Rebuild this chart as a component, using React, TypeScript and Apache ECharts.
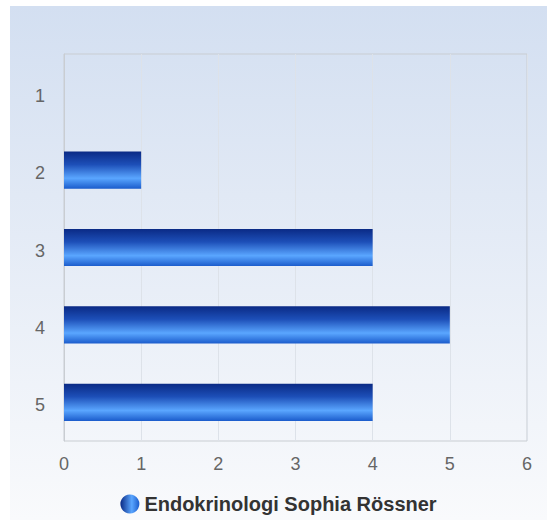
import React, { useEffect, useRef } from "react";
import * as echarts from "echarts";

const categories = ["1", "2", "3", "4", "5"];
const values = [0, 1, 4, 5, 4];
const xTicks = [0, 1, 2, 3, 4, 5, 6];
const seriesName = "Endokrinologi Sophia Rössner";

export default function App() {
  const ref = useRef<HTMLDivElement>(null);
  useEffect(() => {
    if (!ref.current) return;
    const chart = echarts.init(ref.current, undefined, { renderer: "svg" });
    const barGrad = new echarts.graphic.LinearGradient(0, 0, 0, 1, [
      { offset: 0, color: "#0a2a85" },
      { offset: 0.35, color: "#1d4fb8" },
      { offset: 0.72, color: "#5aa6ff" },
      { offset: 1, color: "#1b5ccc" },
    ]);
    const legendGrad = new echarts.graphic.LinearGradient(0, 0, 1, 0, [
      { offset: 0, color: "#0a2a85" },
      { offset: 0.6, color: "#5aa6ff" },
      { offset: 1, color: "#1b5ccc" },
    ]);
    chart.setOption({
      animation: false,
      backgroundColor: new echarts.graphic.LinearGradient(0, 0, 0, 1, [
        { offset: 0, color: "#d3dff1" },
        { offset: 1, color: "#f9fafc" },
      ]),
      textStyle: { fontFamily: "Liberation Sans, Arial, sans-serif" },
      grid: {
        left: 54,
        right: 20,
        top: 48,
        bottom: 79,
        show: true,
        borderColor: "#c9cdd2",
        borderWidth: 1,
        backgroundColor: "transparent",
      },
      legend: {
        bottom: 1,
        left: "center",
        data: [{ name: seriesName, icon: "circle", itemStyle: { color: legendGrad } }],
        itemWidth: 19,
        itemHeight: 19,
        itemGap: 7,
        textStyle: { fontSize: 20, fontWeight: "bold", color: "#333", fontFamily: "Liberation Sans, Arial, sans-serif" },
      },
      xAxis: {
        type: "value",
        min: xTicks[0],
        max: xTicks[xTicks.length - 1],
        interval: 1,
        axisLine: { show: false },
        axisTick: { show: false },
        axisLabel: { fontSize: 18, color: "#666", margin: 14 },
        splitLine: { show: true, lineStyle: { color: "#dde2e9", width: 1 } },
      },
      yAxis: {
        type: "category",
        data: categories,
        inverse: true,
        axisLine: { show: true, lineStyle: { color: "#c9cdd2" } },
        axisTick: { show: false },
        axisLabel: {
          margin: 19,
          verticalAlign: "middle",
          formatter: (v: string) => "{a|" + v + "}",
          rich: { a: { fontSize: 18, color: "#666", padding: [6, 0, 0, 0] } },
        },
        splitLine: { show: false },
      },
      series: [
        {
          name: seriesName,
          type: "bar",
          data: values,
          barWidth: "48%",
          itemStyle: {
            color: barGrad,
          },
        },
      ],
    });
    return () => chart.dispose();
  }, []);
  return (
    <div
      ref={ref}
      style={{ position: "absolute", left: 10, top: 6, width: 537, height: 514 }}
    />
  );
}
